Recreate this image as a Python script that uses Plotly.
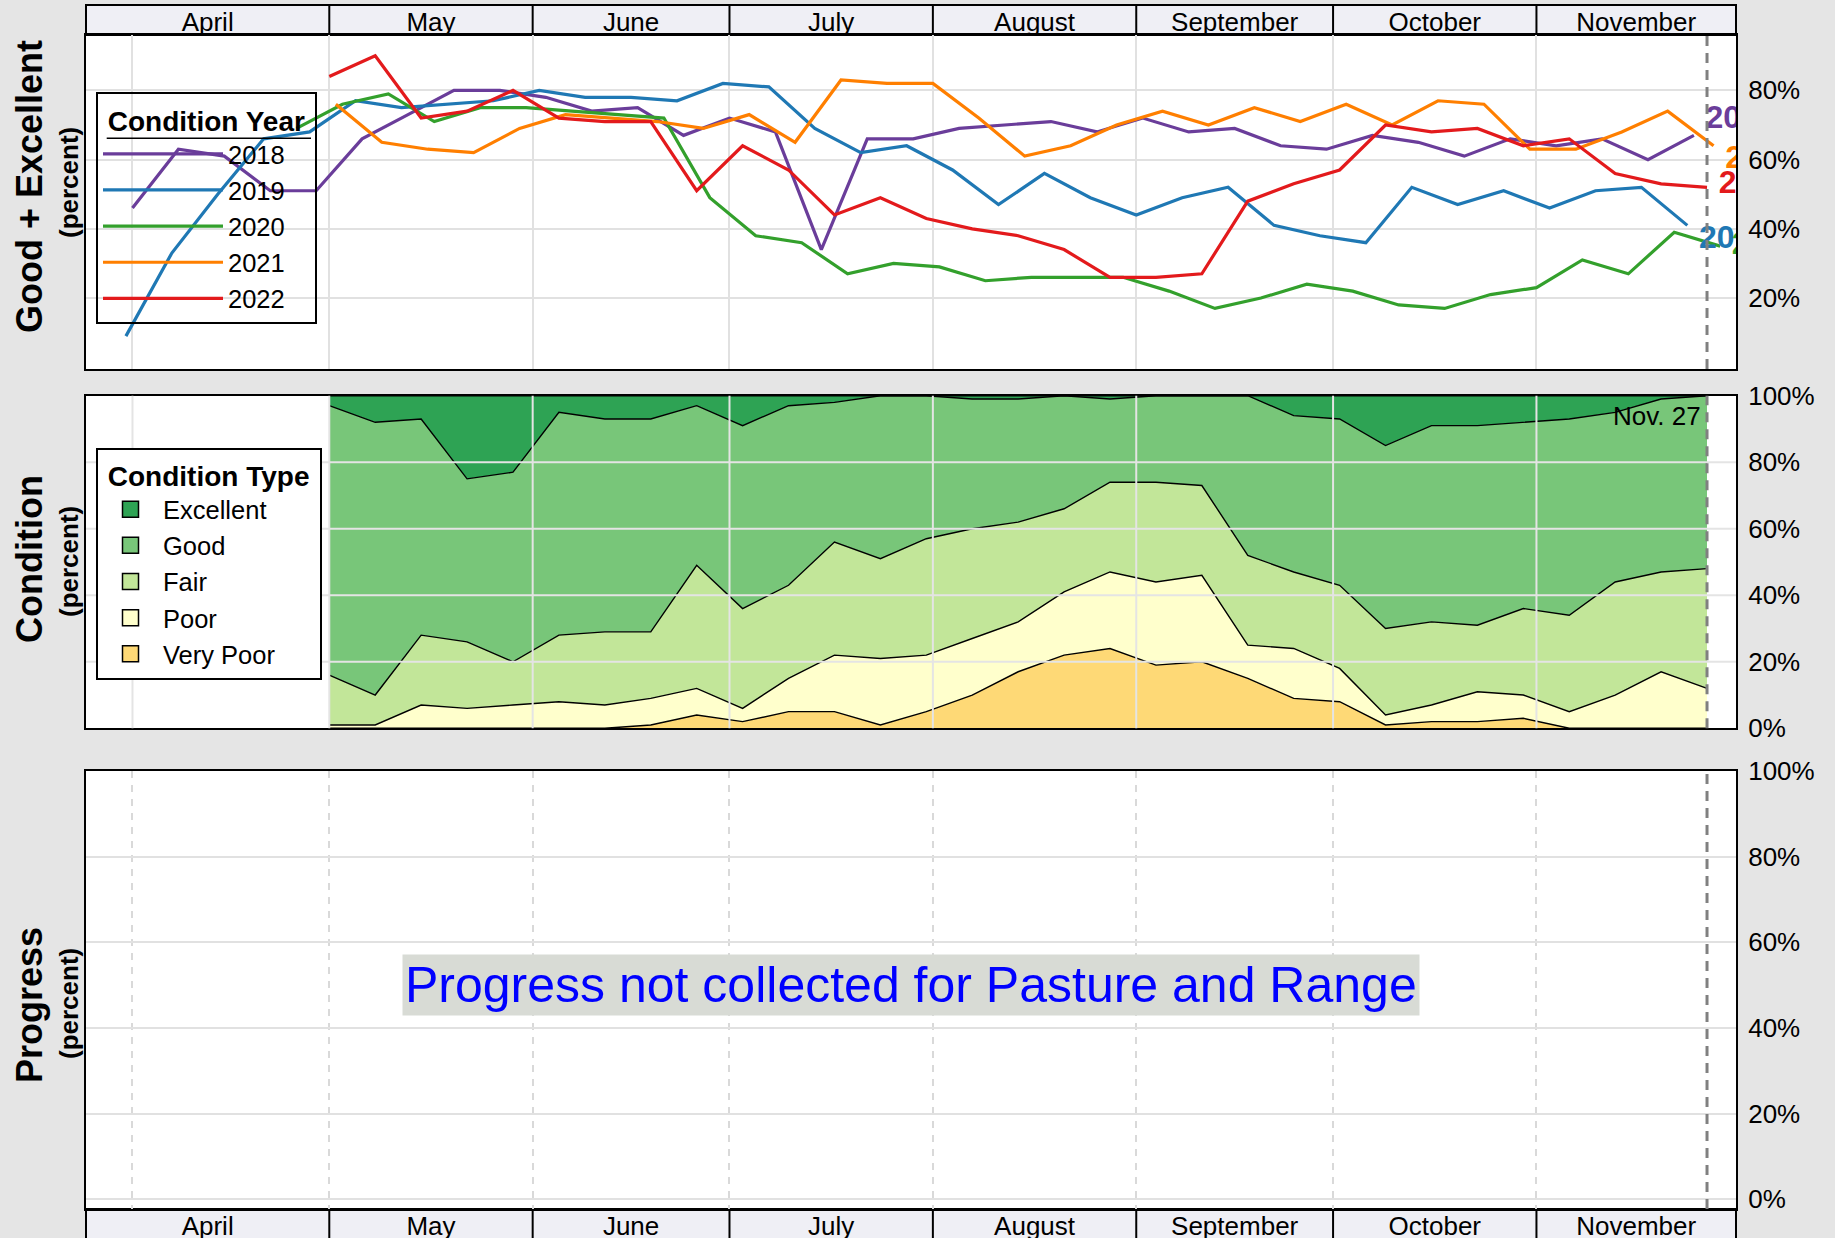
import datetime as dt
import plotly.graph_objects as go

# ---------------- data ----------------
months = ["April", "May", "June", "July", "August", "September", "October", "November"]
month_start = ["2022-04-01", "2022-05-01", "2022-06-01", "2022-07-01", "2022-08-01",
               "2022-09-01", "2022-10-01", "2022-11-01", "2022-12-01"]
x_range = ["2022-03-24 22:00", "2022-12-01 10:00"]

years = ["2018", "2019", "2020", "2021", "2022"]
first_week_ending = ["2018-04-01", "2019-03-31", "2020-04-26", "2021-05-02", "2022-05-01"]
ge_2018 = [46, 63, 61, 51, 51, 66, 73, 80, 80, 78, 74, 75, 67, 72, 68, 34, 66, 66,
           69, 70, 71, 68, 72, 68, 69, 64, 63, 67, 65, 61, 66, 64, 66, 60, 67]
ge_2019 = [9, 33, 50, 66, 68, 77, 75, 76, 77, 80, 78, 78, 77, 82, 81, 69, 62, 64,
           57, 47, 56, 49, 44, 49, 52, 41, 38, 36, 52, 47, 51, 46, 51, 52, 41]
ge_2020 = [69, 76, 79, 71, 75, 75, 74, 73, 72, 49, 38, 36, 27, 30, 29, 25, 26, 26,
           26, 22, 17, 20, 24, 22, 18, 17, 21, 23, 31, 27, 39, 35]
ge_2021 = [76, 65, 63, 62, 69, 73, 72, 71, 69, 73, 65, 83, 82, 82, 72, 61, 64, 70,
           74, 70, 75, 71, 76, 70, 77, 76, 63, 63, 68, 74, 64]
ge_2022 = [84, 90, 72, 74, 80, 72, 71, 71, 51, 64, 57, 44, 49, 43, 40, 38, 34, 26,
           26, 27, 48, 53, 57, 70, 68, 69, 64, 66, 56, 53, 52]
end_label_y = [71.5, 36.7, 35.0, 59.8, 52.6]
year_colors = ["#6a3d9a", "#1f78b4", "#33a02c", "#ff7f00", "#e31a1c"]

cond_types = ["Excellent", "Good", "Fair", "Poor", "Very Poor"]
cond_first_week = "2022-05-01"
excellent = [3, 8, 7, 25, 23, 5, 7, 7, 3, 9, 3, 2, 0, 0, 1, 1, 0, 1, 0, 0, 0, 6, 7,
             15, 9, 9, 8, 7, 5, 1, 0]
good = [81, 82, 65, 49, 57, 67, 64, 64, 48, 55, 54, 42, 49, 43, 39, 37, 34, 25, 26,
        27, 48, 47, 50, 55, 59, 60, 56, 59, 51, 52, 52]
fair = [15, 9, 21, 20, 13, 20, 22, 20, 37, 30, 28, 34, 30, 35, 33, 30, 25, 27, 30,
        27, 27, 23, 25, 26, 25, 20, 26, 29, 34, 30, 36]
poor = [1, 1, 7, 6, 7, 8, 7, 8, 8, 4, 10, 17, 20, 17, 17, 15, 19, 23, 25, 26, 10,
        15, 10, 3, 5, 9, 7, 5, 10, 17, 12]
very_poor = [0, 0, 0, 0, 0, 0, 0, 1, 4, 2, 5, 5, 1, 5, 10, 17, 22, 24, 19, 20, 15,
             9, 8, 1, 2, 2, 3, 0, 0, 0, 0]
cond_colors = ["#2ea354", "#78c679", "#c2e699", "#ffffcc", "#fed976"]
current_week = "2022-11-27"
current_week_label = "Nov. 27"
progress_note = "Progress not collected for Pasture and Range"
top_ticks = [20, 40, 60, 80]
pct_ticks = [0, 20, 40, 60, 80, 100]

# ---------------- helpers ----------------
FONT = "Liberation Sans, Arial, Helvetica, sans-serif"
NB = "\u00a0"


def weekly(start, n, to_year=2022):
    d0 = dt.date.fromisoformat(start)
    return [(d0 + dt.timedelta(days=7 * i)).replace(year=to_year).isoformat() for i in range(n)]


# month label positions: centre of each month's visible part of the axis
r0 = dt.datetime.fromisoformat(x_range[0])
r1 = dt.datetime.fromisoformat(x_range[1])
seg_start = [x_range[0]] + month_start[1:-1]
seg_end = month_start[1:-1] + [x_range[1]]
month_centers = []
for a, b in zip(seg_start, seg_end):
    a = max(dt.datetime.fromisoformat(a), r0)
    b = min(dt.datetime.fromisoformat(b), r1)
    month_centers.append((a + (b - a) / 2).isoformat())
grid_dates = month_start[:-1]

fig = go.Figure()

# ---- top panel: Good + Excellent by year ----
series = [ge_2018, ge_2019, ge_2020, ge_2021, ge_2022]
for yr, start, vals, col in zip(years, first_week_ending, series, year_colors):
    fig.add_trace(go.Scatter(x=weekly(start, len(vals)), y=vals, mode="lines", name=yr,
                             line=dict(color=col, width=3.2), legend="legend",
                             xaxis="x", yaxis="y"))
for yr, start, vals, col, ly in zip(years, first_week_ending, series, year_colors, end_label_y):
    fig.add_trace(go.Scatter(x=[weekly(start, len(vals))[-1]], y=[ly], mode="markers+text",
                             text=[yr], textposition="middle right",
                             marker=dict(size=17, color="rgba(0,0,0,0)"),
                             textfont=dict(size=32, color=col, weight="bold"),
                             cliponaxis=True, showlegend=False, hoverinfo="skip",
                             xaxis="x", yaxis="y"))

# ---- middle panel: condition stacked area ----
cdates = weekly(cond_first_week, len(good))
stack_vals = [very_poor, poor, fair, good, excellent]
stack_names = ["Very Poor", "Poor", "Fair", "Good", "Excellent"]
stack_cols = [cond_colors[4], cond_colors[3], cond_colors[2], cond_colors[1], cond_colors[0]]
for nm, vals, col in zip(stack_names, stack_vals, stack_cols):
    fig.add_trace(go.Scatter(x=cdates, y=vals, mode="lines", stackgroup="cond", name=nm,
                             line=dict(color="black", width=1.4), fillcolor=col,
                             showlegend=False, xaxis="x2", yaxis="y2"))
for nm, col in zip(cond_types, cond_colors):
    fig.add_trace(go.Scatter(x=[None], y=[None], mode="markers", name=nm,
                             marker=dict(symbol="square", size=19, color=col,
                                         line=dict(color="black", width=1.5)),
                             legend="legend2", xaxis="x2", yaxis="y2"))

# ---- bottom panel: progress (empty) ----
fig.add_trace(go.Scatter(x=[None], y=[None], showlegend=False, hoverinfo="skip",
                         xaxis="x3", yaxis="y3"))

# ---------------- layout ----------------
H = 1238
PT, PB = 35, 29
ph = H - PT - PB


def py(ypix):
    return (H - PB - ypix) / ph


line_ax = dict(showline=True, linecolor="black", linewidth=2, mirror=True, zeroline=False,
               automargin=False)
tickf = dict(size=26, color="black", family=FONT)

xa_common = dict(type="date", range=x_range, **line_ax)
leg_font = dict(size=25.5, family=FONT, color="black")
leg_title_font = dict(size=28, family=FONT, color="black")

fig.update_layout(
    width=1835, height=H,
    margin=dict(l=86, r=99, t=PT, b=PB, autoexpand=False),
    paper_bgcolor="#e5e5e5", plot_bgcolor="white",
    font=dict(family=FONT, color="black"),
    xaxis=dict(domain=[0, 1], anchor="y", side="top", tickmode="array",
               tickvals=month_centers, ticktext=months, ticks="", showgrid=False,
               tickfont=tickf, ticklabelstandoff=-8,
               minor=dict(tickmode="array", tickvals=grid_dates, showgrid=True,
                          gridcolor="#e1e1e1", gridwidth=2, ticks=""),
               **xa_common),
    yaxis=dict(domain=[py(369), 1.0], anchor="x", side="right", range=[-0.5, 96],
               tickmode="array", tickvals=top_ticks, ticktext=[f"{v}%" for v in top_ticks],
               showgrid=True, gridcolor="#e1e1e1", gridwidth=2, ticks="",
               tickfont=tickf, ticklabelstandoff=5, **line_ax),
    xaxis2=dict(domain=[0, 1], anchor="y2", showticklabels=False, ticks="",
                showgrid=False, **xa_common),
    yaxis2=dict(domain=[py(728.3), py(395.7)], anchor="x2", side="right", range=[0, 100],
                tickmode="array", tickvals=pct_ticks, ticktext=[f"{v}%" for v in pct_ticks],
                showgrid=False, ticks="", tickfont=tickf, ticklabelstandoff=5, **line_ax),
    xaxis3=dict(domain=[0, 1], anchor="y3", side="bottom", tickmode="array",
                tickvals=month_centers, ticktext=months, ticks="", showgrid=False,
                tickfont=tickf, ticklabelstandoff=-7,
                minor=dict(tickmode="array", tickvals=grid_dates, showgrid=True,
                           gridcolor="#d9d9d9", gridwidth=1.5, griddash="7px,7px", ticks=""),
                **xa_common),
    yaxis3=dict(domain=[0, py(771)], anchor="x3", side="right", range=[-2.3, 100],
                tickmode="array", tickvals=pct_ticks, ticktext=[f"{v}%" for v in pct_ticks],
                showgrid=True, gridcolor="#e1e1e1", gridwidth=2, ticks="",
                tickfont=tickf, ticklabelstandoff=5, **line_ax),
    legend=dict(x=10 / 1650, y=py(92.3), xanchor="left", yanchor="top", traceorder="normal",
                bgcolor="rgba(0,0,0,0)", bordercolor="black", borderwidth=2,
                font=leg_font, itemwidth=120,
                title=dict(text=f"{NB}<b>Condition Year</b>{NB}", font=leg_title_font)),
    legend2=dict(x=10 / 1650, y=py(447.7), xanchor="left", yanchor="top", traceorder="normal",
                 bgcolor="white", bordercolor="black", borderwidth=2,
                 font=leg_font, itemwidth=55,
                 title=dict(text=f"{NB}<b>Condition Type</b>{NB}", font=leg_title_font)),
    showlegend=True,
)

# ---------------- shapes ----------------
shapes = []
strip = 30 / ph
for y0, y1 in [(1.0, 1.0 + strip), (-0.06, 0.0)]:
    shapes.append(dict(type="rect", xref="paper", yref="paper", x0=0, x1=1, y0=y0, y1=y1,
                       fillcolor="#efeff5", line=dict(color="black", width=2), layer="below"))
    for d in month_start[1:-1]:
        shapes.append(dict(type="line", xref="x", yref="paper", x0=d, x1=d, y0=y0, y1=y1,
                           line=dict(color="black", width=2), layer="below"))
# grid on top of the stacked areas
for d in grid_dates:
    shapes.append(dict(type="line", xref="x2", yref="y2 domain", x0=d, x1=d, y0=0, y1=1,
                       line=dict(color="#e4e4e4", width=2), layer="above"))
for v in pct_ticks[1:-1]:
    shapes.append(dict(type="line", xref="x2 domain", yref="y2", x0=0, x1=1, y0=v, y1=v,
                       line=dict(color="#e4e4e4", width=2), layer="above"))
# current week marker
for xr, yr in [("x", "y domain"), ("x2", "y2 domain"), ("x3", "y3 domain")]:
    shapes.append(dict(type="line", xref=xr, yref=yr, x0=current_week, x1=current_week,
                       y0=0, y1=1, line=dict(color="#808080", width=3, dash="10px,7px"),
                       layer="above"))
# legend title underlines
shapes.append(dict(type="line", xref="paper", yref="paper", x0=20.7 / 1650, x1=225 / 1650,
                   y0=py(138.3), y1=py(138.3), line=dict(color="black", width=1.5)))
shapes.append(dict(type="line", xref="paper", yref="paper", x0=21 / 1650, x1=228.7 / 1650,
                   y0=py(493.3), y1=py(493.3), line=dict(color="black", width=1.5)))
fig.update_layout(shapes=shapes)

# ---------------- annotations ----------------
ann = []
for big, yc, ycp in [("Good + Excellent", py(187), py(183)),
                     ("Condition", py(559), py(562)),
                     ("Progress", py(1005), py(1004))]:
    ann.append(dict(text=f"<b>{big}</b>", xref="paper", yref="paper", x=0, y=yc,
                    xshift=-57, xanchor="center", yanchor="middle", textangle=-90,
                    showarrow=False, font=dict(size=36, color="black", family=FONT)))
    ann.append(dict(text="<b>(percent)</b>", xref="paper", yref="paper", x=0, y=ycp,
                    xshift=-17, xanchor="center", yanchor="middle", textangle=-90,
                    showarrow=False, font=dict(size=26, color="black", family=FONT)))
ann.append(dict(text=current_week_label, xref="x2", yref="y2", x=current_week, y=100,
                xanchor="right", yanchor="top", xshift=-4, yshift=-3, showarrow=False,
                font=dict(size=26, color="black", family=FONT)))
ann.append(dict(text=progress_note, xref="x3 domain", yref="y3", x=0.5, y=50,
                xanchor="center", yanchor="middle", showarrow=False, bgcolor="#d8dbd5",
                borderpad=2, font=dict(size=50, color="#0000ff", family=FONT)))
fig.update_layout(annotations=ann)

fig.write_html("out.html", config={"displayModeBar": False},
               post_script="document.body.style.margin='0px';")
